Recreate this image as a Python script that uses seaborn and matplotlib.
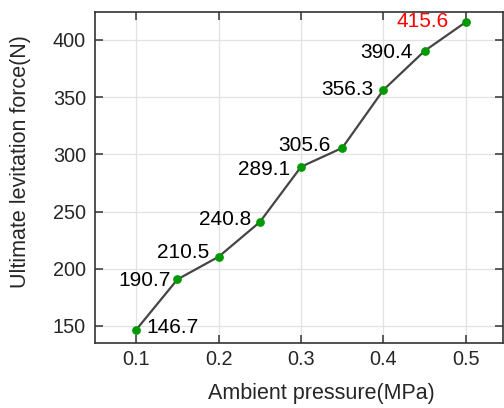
import matplotlib
matplotlib.use("Agg")
import matplotlib.pyplot as plt
import seaborn as sns
import pandas as pd

# values
pressure = [0.1, 0.15, 0.2, 0.25, 0.3, 0.35, 0.4, 0.45, 0.5]
force = [146.7, 190.7, 210.5, 240.8, 289.1, 305.6, 356.3, 390.4, 415.6]
labels = ["146.7", "190.7", "210.5", "240.8", "289.1", "305.6", "356.3", "390.4", "415.6"]
x_ticks = [0.1, 0.2, 0.3, 0.4, 0.5]
y_ticks = [150, 200, 250, 300, 350, 400]

# label offsets from each point, in points
offsets = [(7, 1.5), (-5, -0.5), (-6.5, 3.2), (-6.5, 2), (-8, -2.2),
           (-8.4, 1.5), (-7.2, 0.5), (-8.4, -1.5), (-12, 0.2)]

df = pd.DataFrame({"pressure": pressure, "force": force})

sns.set_style("ticks")
plt.rcParams['font.family'] = ['Liberation Sans', 'DejaVu Sans']

fig = plt.figure(figsize=(5.04, 4.08), dpi=100)
ax = fig.add_axes([0.1885, 0.159, 0.8095, 0.812])

sns.lineplot(x="pressure", y="force", data=df, color="#454545", linewidth=1.6,
             marker="o", markersize=6.3, markerfacecolor="#009a00",
             markeredgecolor="#009a00", markeredgewidth=0, ax=ax, zorder=3)

for i, (x, y, t) in enumerate(zip(pressure, force, labels)):
    dx, dy = offsets[i]
    ax.annotate(t, (x, y), xytext=(dx, dy), textcoords="offset points",
                ha="left" if dx > 0 else "right", va="center", fontsize=15,
                color="red" if i == len(force) - 1 else "black")

ax.set_xlim(0.05, 0.545)
ax.set_ylim(135, 424.5)
ax.set_xticks(x_ticks)
ax.set_yticks(y_ticks)
ax.set_xticklabels([str(v) for v in x_ticks])
ax.grid(True, color="#e2e2e2", linewidth=0.9)
ax.tick_params(direction="in", top=True, right=True, labelsize=14.3, length=5.5,
               width=1.1, color="#333333")
ax.tick_params(axis="x", pad=5)
ax.tick_params(axis="y", pad=6.5)
for s in ax.spines.values():
    s.set_color("#333333")
    s.set_linewidth(1.2)

ax.set_xlabel("Ambient pressure(MPa)", fontsize=15.5)
ax.set_ylabel("Ultimate levitation force(N)", fontsize=15.5)
ax.xaxis.set_label_coords(0.554, -0.119)
ax.yaxis.set_label_coords(-0.157, 0.547)

fig.savefig("out.png", dpi=100)
